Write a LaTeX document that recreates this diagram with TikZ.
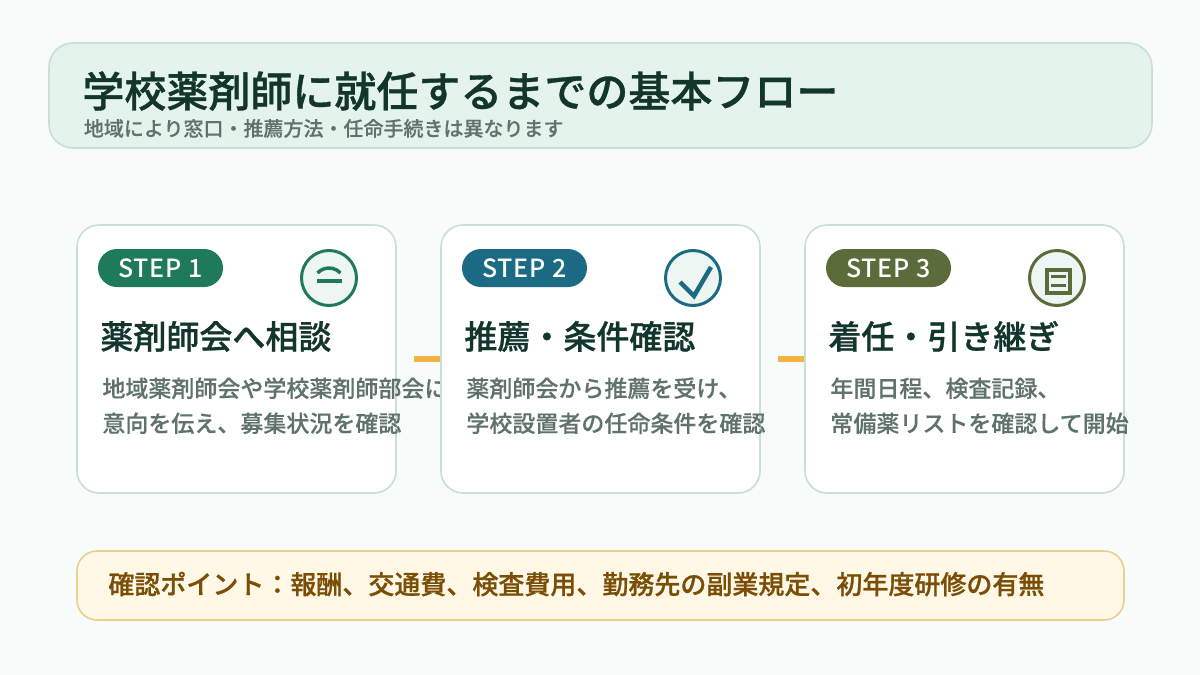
\documentclass[tikz,border=0pt]{standalone}
\usepackage{fontspec}
\setmainfont{Noto Sans CJK JP}
\newfontfamily\cjkhead[FakeBold=0.8]{Noto Sans CJK JP Medium}
\newfontfamily\cjkbody[FakeBold=0.25]{Noto Sans CJK JP Medium}
\newfontfamily\stepfont[LetterSpace=3]{Noto Sans CJK JP Medium}
\definecolor{pagebg}{HTML}{F7FBF9}
\definecolor{headbg}{HTML}{E4F3EC}
\definecolor{edgegray}{HTML}{C8DED6}
\definecolor{inkdark}{HTML}{12352C}
\definecolor{inkgray}{HTML}{5F736C}
\definecolor{iconbg}{HTML}{EEF6F3}
\definecolor{stepone}{HTML}{1F7A5C}
\definecolor{steptwo}{HTML}{1B6B85}
\definecolor{stepthree}{HTML}{5B6B3A}
\definecolor{linkbar}{HTML}{F2B544}
\definecolor{notebg}{HTML}{FFF8E6}
\definecolor{noteedge}{HTML}{E8D08F}
\definecolor{noteink}{HTML}{7A4E06}
\tikzset{
  panel/.style = {draw = edgegray, line width = 0.8pt, inner sep = 0, outer sep = 0},
  card/.style = {panel, fill = white, rounded corners = 11pt, minimum width = 159.5pt, minimum height = 134pt},
  pill/.style = {fill = #1, text = white, rounded corners = 9.5pt, inner sep = 0, minimum width = 62.5pt, minimum height = 19pt, font = \fontsize{12.5}{14}\stepfont\selectfont},
  badge/.style = {circle, draw = #1, fill = iconbg, line width = 1.5pt, inner sep = 0, minimum size = 27.5pt},
  heading/.style = {anchor = base west, inner sep = 0, text = inkdark, font = \fontsize{16.5}{20}\cjkhead\selectfont},
  bodytext/.style = {anchor = base west, inner sep = 0, text = inkgray, font = \fontsize{11.5}{14}\cjkbody\selectfont},
  linkline/.style = {draw = linkbar, line width = 3pt, shorten > = 0.5pt}
}
\begin{document}
\begin{tikzpicture}[x = 0.5pt, y = -0.5pt]
    \useasboundingbox [fill = pagebg] (0,0) rectangle (1200,675);
    % header
    \node [panel, fill = headbg, rounded corners = 12pt, minimum width = 551.5pt, minimum height = 52.5pt] (head) at (600.5,95.5) {};
    \node [anchor = base west, inner sep = 0, text = inkdark, font = \fontsize{21}{25}\cjkhead\selectfont] (headtitle) at (82,107) {学校薬剤師に就任するまでの基本フロー};
    \node [anchor = base west, inner sep = 0, text = inkgray, font = \fontsize{10}{12}\cjkbody\selectfont] (headsub) at (83.5,136) {地域により窓口・推薦方法・任命手続きは異なります};
    % step 1
    \node [card] (cardone) at (236.5,359) {};
    \node [pill = stepone] (pillone) at (160.5,268) {STEP 1};
    \node [badge = stepone] (badgeone) at (329,278) {};
    \draw [stepone, line width = 1.75pt] (317.5,273) arc [start angle = 223, end angle = 317, radius = 15.7];
    \draw [stepone, line width = 2pt] (317,281) -- (342,281);
    \node [heading] (titleone) at (100,349) {薬剤師会へ相談};
    \node [bodytext] (bodyonea) at (102,397) {地域薬剤師会や学校薬剤師部会に};
    \node [bodytext] (bodyoneb) at (102,432) {意向を伝え、募集状況を確認};
    % step 2
    \node [card] (cardtwo) at (600.5,359) {};
    \coordinate (linkone) at (414,359);
    \draw [linkline] (linkone) -- (cardtwo.west);
    \node [pill = steptwo] (pilltwo) at (524.5,268) {STEP 2};
    \node [badge = steptwo] (badgetwo) at (693,278) {};
    \draw [steptwo, line width = 2.25pt] (680,282) -- (694,296) -- (711,267);
    \node [heading] (titletwo) at (464,349) {推薦・条件確認};
    \node [bodytext] (bodytwoa) at (466,397) {薬剤師会から推薦を受け、};
    \node [bodytext] (bodytwob) at (466,432) {学校設置者の任命条件を確認};
    % step 3
    \node [card] (cardthree) at (964.5,359) {};
    \coordinate (linktwo) at (778,359);
    \draw [linkline] (linktwo) -- (cardthree.west);
    \node [pill = stepthree] (pillthree) at (888.5,268) {STEP 3};
    \node [badge = stepthree] (badgethree) at (1057,278) {};
    \draw [stepthree, line width = 2pt] (1047,270) rectangle (1069.5,293);
    \draw [stepthree, line width = 1.5pt] (1051,276) -- (1066,276);
    \draw [stepthree, line width = 1.5pt] (1051,285) -- (1066,285);
    \node [heading] (titlethree) at (828,349) {着任・引き継ぎ};
    \node [bodytext] (bodythreea) at (830,397) {年間日程、検査記録、};
    \node [bodytext] (bodythreeb) at (830,432) {常備薬リストを確認して開始};
    % note
    \node [panel, draw = noteedge, fill = notebg, rounded corners = 10pt, minimum width = 523.5pt, minimum height = 34.5pt] (note) at (600.5,585.5) {};
    \node [anchor = base west, inner sep = 0, text = noteink, font = \fontsize{13}{16}\cjkhead\selectfont] (notetext) at (108,594) {確認ポイント：報酬、交通費、検査費用、勤務先の副業規定、初年度研修の有無};
\end{tikzpicture}
\end{document}
